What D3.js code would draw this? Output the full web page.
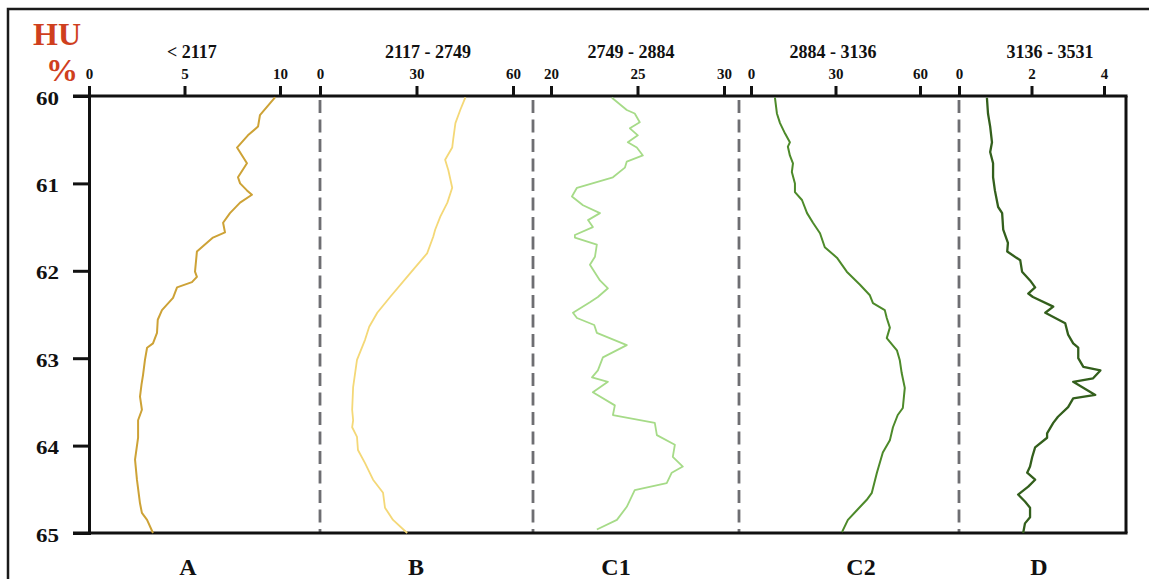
<!DOCTYPE html>
<html>
<head>
<meta charset="utf-8">
<script src="https://cdn.jsdelivr.net/npm/d3@7/dist/d3.min.js"></script>
<style>
  html, body { margin: 0; padding: 0; background: #fff; }
  svg { display: block; }
  text { font-family: "Liberation Serif", "Times New Roman", serif; font-weight: bold; }
</style>
</head>
<body>
<svg id="chart" width="1149" height="579"></svg>
<script>
// Panel identifiers, HU range headers and axis settings
const panelNames = ["A", "B", "C1", "C2", "D"];
const rangeLabels = ["< 2117", "2117 - 2749", "2749 - 2884", "2884 - 3136", "3136 - 3531"];
const domainA = [0, 10], domainB = [0, 60], domainC1 = [20, 30], domainC2 = [0, 60], domainD = [0, 4];
const ticksA = [0, 5, 10], ticksB = [0, 30, 60], ticksC1 = [20, 25, 30], ticksC2 = [0, 30, 60], ticksD = [0, 2, 4];
const depthTicks = [60, 61, 62, 63, 64, 65];

// Series A (< 2117)
const depthA = [60.015, 60.22, 60.35, 60.45, 60.59, 60.77, 60.93, 61.0, 61.08, 61.13, 61.22, 61.34, 61.45, 61.56, 61.62, 61.78, 62.01, 62.07, 62.13, 62.19, 62.31, 62.45, 62.56, 62.71, 62.83, 62.88, 63.02, 63.19, 63.3, 63.44, 63.59, 63.71, 63.91, 64.16, 64.39, 64.66, 64.77, 64.85, 65.0];
const valueA = [9.74, 8.95, 8.85, 8.32, 7.75, 8.27, 7.8, 7.91, 8.27, 8.53, 7.91, 7.38, 7.02, 7.12, 6.49, 5.65, 5.55, 5.65, 5.39, 4.61, 4.4, 3.82, 3.6, 3.56, 3.35, 3.04, 2.93, 2.83, 2.75, 2.67, 2.77, 2.57, 2.57, 2.41, 2.51, 2.67, 2.77, 3.04, 3.35];

// Series B (2117 - 2749)
const depthB = [60.015, 60.16, 60.31, 60.5, 60.59, 60.73, 60.85, 61.05, 61.22, 61.38, 61.53, 61.61, 61.8, 62.03, 62.3, 62.48, 62.64, 62.79, 63.02, 63.33, 63.59, 63.71, 63.79, 63.9, 64.05, 64.2, 64.39, 64.54, 64.71, 64.85, 65.0];
const valueB = [45.2, 43.6, 42.1, 41.4, 41.1, 38.9, 39.9, 41.1, 39.6, 37.4, 35.8, 35.2, 33.3, 28.0, 21.8, 17.8, 15.3, 14.0, 11.5, 10.3, 10.0, 10.3, 10.0, 11.5, 11.8, 14.0, 16.5, 19.6, 20.2, 22.7, 27.1];

// Series C1 (2749 - 2884)
const depthC1 = [60.02, 60.16, 60.2, 60.3, 60.37, 60.45, 60.53, 60.59, 60.68, 60.75, 60.82, 60.93, 61.05, 61.15, 61.25, 61.34, 61.42, 61.5, 61.59, 61.62, 61.7, 61.84, 61.93, 62.11, 62.2, 62.3, 62.36, 62.48, 62.54, 62.62, 62.71, 62.85, 62.99, 63.14, 63.22, 63.27, 63.39, 63.54, 63.65, 63.74, 63.88, 63.99, 64.13, 64.24, 64.31, 64.43, 64.51, 64.7, 64.85, 64.96];
const valueC1 = [23.52, 24.38, 24.84, 25.13, 24.56, 25.02, 24.44, 24.96, 25.31, 24.38, 24.27, 23.58, 21.5, 21.21, 21.85, 22.83, 22.14, 22.42, 21.38, 21.38, 22.65, 22.54, 22.25, 22.83, 23.29, 22.71, 22.25, 21.27, 21.5, 22.5, 22.65, 24.38, 23.0, 22.71, 22.37, 23.29, 22.42, 23.69, 23.58, 26.0, 26.12, 27.16, 27.04, 27.62, 26.98, 26.69, 24.84, 24.38, 23.81, 22.65];

// Series C2 (2884 - 3136)
const depthC2 = [60.02, 60.2, 60.31, 60.43, 60.53, 60.58, 60.68, 60.77, 60.87, 61.0, 61.1, 61.19, 61.34, 61.45, 61.57, 61.73, 61.85, 62.01, 62.16, 62.28, 62.37, 62.45, 62.54, 62.65, 62.77, 62.91, 63.02, 63.17, 63.34, 63.57, 63.65, 63.79, 63.94, 64.08, 64.31, 64.54, 64.62, 64.74, 64.85, 64.99];
const valueC2 = [8.5, 9.2, 10.3, 12.1, 13.8, 13.1, 13.8, 14.9, 14.5, 15.6, 15.6, 18.1, 19.9, 22.0, 24.5, 26.2, 30.5, 34.0, 38.7, 42.2, 43.3, 47.5, 48.2, 49.3, 48.2, 51.8, 52.8, 53.5, 54.6, 53.9, 52.1, 50.4, 49.3, 46.8, 44.7, 42.9, 41.1, 37.6, 34.4, 32.3];

// Series D (3136 - 3531)
const depthD = [60.02, 60.2, 60.35, 60.53, 60.64, 60.77, 60.93, 61.08, 61.27, 61.34, 61.53, 61.68, 61.78, 61.88, 62.01, 62.11, 62.19, 62.26, 62.3, 62.41, 62.48, 62.6, 62.73, 62.83, 62.88, 63.0, 63.1, 63.14, 63.23, 63.27, 63.42, 63.46, 63.56, 63.67, 63.74, 63.86, 63.91, 64.02, 64.13, 64.24, 64.31, 64.39, 64.47, 64.56, 64.64, 64.71, 64.82, 64.89, 65.0];
const valueD = [0.77, 0.8, 0.86, 0.91, 0.86, 0.94, 0.94, 0.99, 1.08, 1.19, 1.22, 1.35, 1.33, 1.69, 1.74, 1.96, 2.1, 1.91, 2.04, 2.6, 2.38, 2.93, 3.01, 3.15, 3.29, 3.29, 3.43, 3.9, 3.7, 3.15, 3.76, 3.15, 3.01, 2.73, 2.6, 2.43, 2.43, 2.1, 2.02, 1.96, 1.88, 2.1, 1.91, 1.63, 1.82, 1.96, 1.96, 1.82, 1.77];

// Layout
const plotTop = 96, plotBottom = 533, plotLeft = 89, plotRight = 1126, axisStart = 73;
const panelLayout = [
  { range: [89, 280],   domain: domainA,  ticks: ticksA,  depth: depthA,  value: valueA,  color: "#cda236", width: 2.0, titleX: 192,  nameX: 188 },
  { range: [320, 513],  domain: domainB,  ticks: ticksB,  depth: depthB,  value: valueB,  color: "#f4d877", width: 1.8, titleX: 428,  nameX: 416 },
  { range: [551, 724],  domain: domainC1, ticks: ticksC1, depth: depthC1, value: valueC1, color: "#a6db88", width: 1.8, titleX: 631,  nameX: 616 },
  { range: [751, 920],  domain: domainC2, ticks: ticksC2, depth: depthC2, value: valueC2, color: "#4d8a2a", width: 2.0, titleX: 833,  nameX: 861 },
  { range: [959, 1104], domain: domainD,  ticks: ticksD,  depth: depthD,  value: valueD,  color: "#335f1c", width: 2.3, titleX: 1050, nameX: 1039 }
];
const dividers = [320, 533, 739, 959];

const svg = d3.select("#chart");
const y = d3.scaleLinear().domain([60, 65]).range([plotTop, plotBottom]);

// Outer frame
svg.append("rect")
  .attr("x", 8).attr("y", 9).attr("width", 1160).attr("height", 600)
  .attr("fill", "none").attr("stroke", "#1a1a1a").attr("stroke-width", 2.5);

// HU / % header
svg.append("text").attr("x", 33).attr("y", 45).attr("font-size", 32).attr("fill", "#cf3f1e").text("HU");
svg.append("text").attr("x", 46).attr("y", 81).attr("font-size", 32).attr("fill", "#cf3f1e").text("%");

// Dashed dividers between panels
svg.append("g").selectAll("line").data(dividers).join("line")
  .attr("x1", d => d).attr("x2", d => d)
  .attr("y1", plotTop + 4).attr("y2", plotBottom)
  .attr("stroke", "#6e6e72").attr("stroke-width", 2.8)
  .attr("stroke-dasharray", "13,6.5");

// Depth axis (left)
const yAxis = d3.axisLeft(y).tickValues(depthTicks).tickSize(plotLeft - axisStart).tickPadding(14).tickFormat(d3.format("d"));
const gy = svg.append("g").attr("transform", `translate(${plotLeft},0)`).call(yAxis);
gy.select(".domain").attr("stroke", "#111").attr("stroke-width", 3);
gy.selectAll(".tick line").attr("stroke", "#111").attr("stroke-width", 3);
gy.selectAll(".tick text")
  .attr("font-size", 18).attr("font-family", "Liberation Serif, serif").attr("font-weight", "bold")
  .attr("fill", "#111").attr("dy", "0.45em")
  .attr("textLength", 23).attr("lengthAdjust", "spacingAndGlyphs");

// Top and bottom horizontal frame lines, right edge
svg.append("line").attr("x1", axisStart).attr("x2", plotRight + 1.5).attr("y1", plotTop).attr("y2", plotTop)
  .attr("stroke", "#111").attr("stroke-width", 3);
svg.append("line").attr("x1", axisStart).attr("x2", plotRight + 1.5).attr("y1", plotBottom).attr("y2", plotBottom)
  .attr("stroke", "#111").attr("stroke-width", 3);
svg.append("line").attr("x1", plotRight).attr("x2", plotRight).attr("y1", plotTop).attr("y2", plotBottom)
  .attr("stroke", "#111").attr("stroke-width", 3);

// Panels: top axis, range header, curve, panel name
panelLayout.forEach((p, i) => {
  const x = d3.scaleLinear().domain(p.domain).range(p.range);
  const xAxis = d3.axisTop(x).tickValues(p.ticks).tickSize(10).tickPadding(7).tickFormat(d3.format("d"));
  const gx = svg.append("g").attr("transform", `translate(0,${plotTop})`).call(xAxis);
  gx.select(".domain").remove();
  gx.selectAll(".tick line").attr("stroke", "#111").attr("stroke-width", 3);
  gx.selectAll(".tick text")
    .attr("font-size", 15).attr("font-family", "Liberation Serif, serif").attr("font-weight", "bold").attr("fill", "#111");

  svg.append("text")
    .attr("x", p.titleX).attr("y", 58).attr("text-anchor", "middle")
    .attr("font-size", 18).attr("fill", "#111").text(rangeLabels[i]);

  const points = p.depth.map((d, k) => ({ d: d, v: p.value[k] }));
  const line = d3.line().x(q => x(q.v)).y(q => y(q.d));
  svg.append("path").datum(points)
    .attr("d", line)
    .attr("fill", "none").attr("stroke", p.color).attr("stroke-width", p.width)
    .attr("stroke-linejoin", "round");

  svg.append("text")
    .attr("x", p.nameX).attr("y", 575).attr("text-anchor", "middle")
    .attr("font-size", 24).attr("fill", "#111").text(panelNames[i]);
});
</script>
</body>
</html>
